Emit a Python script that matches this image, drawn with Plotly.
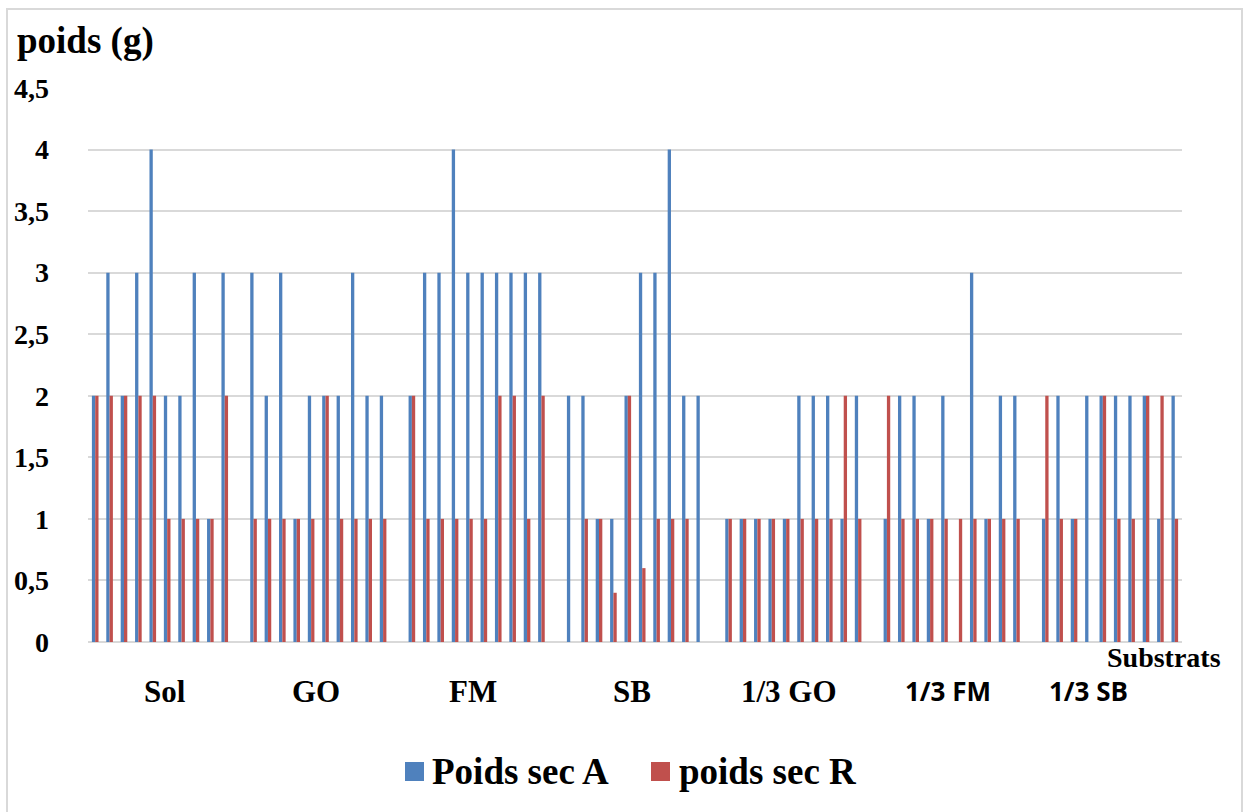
import plotly.graph_objects as go

groups = ["Sol", "GO", "FM", "SB", "1/3 GO", "1/3 FM", "1/3 SB"]

poids_A = [
    [2, 3, 2, 3, 4, 2, 2, 3, 1, 3],
    [3, 2, 3, 1, 2, 2, 2, 3, 2, 2],
    [2, 3, 3, 4, 3, 3, 3, 3, 3, 3],
    [2, 2, 1, 1, 2, 3, 3, 4, 2, 2],
    [1, 1, 1, 1, 1, 2, 2, 2, 1, 2],
    [1, 2, 2, 1, 2, None, 3, 1, 2, 2],
    [1, 2, 1, 2, 2, 2, 2, 2, 1, 2],
]

poids_R = [
    [2, 2, 2, 2, 2, 1, 1, 1, 1, 2],
    [1, 1, 1, 1, 1, 2, 1, 1, 1, 1],
    [2, 1, 1, 1, 1, 1, 2, 2, 1, 2],
    [None, 1, 1, 0.4, 2, 0.6, 1, 1, 1, None],
    [1, 1, 1, 1, 1, 1, 1, 1, 2, 1],
    [2, 1, 1, 1, 1, 1, 1, 1, 1, 1],
    [2, 1, 1, None, 2, 1, 1, 2, 2, 1],
]

series_names = ["Poids sec A", "poids sec R"]
colors = ["#4F81BD", "#C0504D"]

# slot layout: 10 plants per substrate, one empty slot between substrates
SLOTS = 11
xs, ya, yr = [], [], []
for gi in range(len(groups)):
    for j in range(len(poids_A[gi])):
        xs.append(gi * SLOTS + j)
        ya.append(poids_A[gi][j])
        yr.append(poids_R[gi][j])
n_slots = len(groups) * SLOTS - 1  # 76 slots: 0..75

serif = "Liberation Serif, Times New Roman, DejaVu Serif, serif"
sans = "Open Sans, Noto Sans, sans-serif"

fig = go.Figure()
for name, col, vals in zip(series_names, colors, [ya, yr]):
    fig.add_trace(go.Bar(x=xs, y=vals, name=name, marker_color=col,
                         marker_line_width=0, showlegend=False))

# pixel -> paper helpers (plot area: x 88..1182, y 642..88)
def px(x):
    return (x - 88) / 1094


def py(y):
    return (642 - y) / 554


label_shift = [5, -2, -4, -3, -4, -4, -22]
label_font = [serif] * 5 + [sans] * 2
label_size = [31] * 5 + [26] * 2
annotations = []
for gi, g in enumerate(groups):
    annotations.append(dict(
        x=gi * SLOTS + 4.5, y=py(691), xref="x", yref="paper",
        text=g, showarrow=False, xanchor="center", yanchor="middle",
        xshift=label_shift[gi],
        font=dict(family=label_font[gi], size=label_size[gi], color="black", weight="bold"),
    ))
annotations.append(dict(
    x=px(1223), y=py(657), xref="paper", yref="paper", text="Substrats",
    showarrow=False, xanchor="right", yanchor="middle",
    font=dict(family=serif, size=28, color="black", weight="bold"),
))
annotations.append(dict(
    x=px(15), y=py(41), xref="paper", yref="paper", text="poids (g)",
    showarrow=False, xanchor="left", yanchor="middle",
    font=dict(family=serif, size=37, color="black", weight="bold"),
))

# legend (manual, square swatches like the reference)
legend_swatch_x = [405, 651]
legend_text_x = [430, 677]
shapes = [dict(type="rect", xref="paper", yref="paper",
               x0=px(7), x1=px(1242), y0=py(830), y1=py(9),
               line=dict(color="#d9d9d9", width=2), layer="below")]
for name, col, sx, tx in zip(series_names, colors, legend_swatch_x, legend_text_x):
    shapes.append(dict(type="rect", xref="paper", yref="paper",
                       x0=px(sx), x1=px(sx + 19), y0=py(781), y1=py(762),
                       fillcolor=col, line=dict(width=0)))
    annotations.append(dict(
        x=px(tx), y=py(771), xref="paper", yref="paper", text=name,
        showarrow=False, xanchor="left", yanchor="middle",
        font=dict(family=serif, size=37, color="black", weight="bold"),
    ))

fig.update_layout(
    width=1244, height=812,
    margin=dict(l=88, r=62, t=88, b=170),
    paper_bgcolor="white", plot_bgcolor="white",
    barmode="group", bargap=0.54, bargroupgap=0,
    separators=", ",
    showlegend=False,
    annotations=annotations,
    shapes=shapes,
    xaxis=dict(range=[-0.5, n_slots - 0.5], showticklabels=False, showgrid=False,
               zeroline=False, showline=False, ticks=""),
    yaxis=dict(range=[0, 4.5], dtick=0.5, tick0=0, showgrid=True, gridcolor="#d9d9d9",
               gridwidth=1.5, zeroline=True, zerolinecolor="#d9d9d9", zerolinewidth=1.5,
               showline=False, ticks="", ticklabelstandoff=38,
               tickfont=dict(family=serif, size=28, color="black", weight="bold")),
)

fig.write_html("out.html")
